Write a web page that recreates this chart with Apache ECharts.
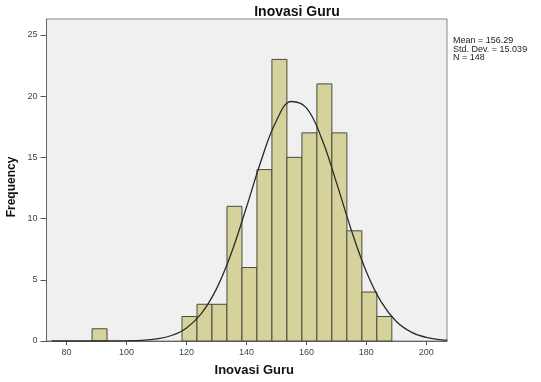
<!DOCTYPE html>
<html>
<head>
<meta charset="utf-8">
<script src="https://cdn.jsdelivr.net/npm/echarts@6/dist/echarts.min.js"></script>
<style>html,body{margin:0;padding:0;background:#fff}#c{width:541px;height:382px}</style>
</head>
<body>
<div id="c"></div>
<script>
// Histogram bins (lower edge, upper edge) and frequencies
const binStart = [88.5, 118.5, 123.5, 128.5, 133.5, 138.5, 143.5, 148.5, 153.5, 158.5, 163.5, 168.5, 173.5, 178.5, 183.5];
const binEnd   = [93.5, 123.5, 128.5, 133.5, 138.5, 143.5, 148.5, 153.5, 158.5, 163.5, 168.5, 173.5, 178.5, 183.5, 188.5];
const freq     = [1, 2, 3, 3, 11, 6, 14, 23, 15, 17, 21, 17, 9, 4, 2];
// Normal curve
const curveX = [75, 80, 85, 90, 95, 100, 105, 110, 115, 120, 125, 130, 135, 140, 145, 150, 155, 160, 165, 170, 175, 180, 185, 190, 195, 200, 205, 207];
const curveY = [0, 0, 0, 0.001, 0.005, 0.018, 0.058, 0.17, 0.45, 1.07, 2.26, 4.26, 7.21, 10.92, 14.81, 17.99, 19.56, 19.04, 16.6, 12.96, 9.05, 5.66, 3.17, 1.59, 0.72, 0.29, 0.1, 0.07];
const xTicks = [80, 100, 120, 140, 160, 180, 200];
const yTicks = [0, 5, 10, 15, 20, 25];
const statsLines = ['Mean = 156.29', 'Std. Dev. = 15.039', 'N = 148'];
const titleText = 'Inovasi Guru';
const xName = 'Inovasi Guru';
const yName = 'Frequency';

const chart = echarts.init(document.getElementById('c'));
const barData = binStart.map((s, i) => [s, binEnd[i], freq[i]]);
const lineData = curveX.map((x, i) => [x, curveY[i]]);
const font = 'Arial, "Liberation Sans", sans-serif';

chart.setOption({
  animation: false,
  backgroundColor: '#fff',
  title: {
    text: titleText, left: 292, top: 0, textAlign: 'center',
    textStyle: { fontFamily: font, fontSize: 14, fontWeight: 'bold', color: '#111' }
  },
  graphic: [
    { type: 'text', left: 453, top: 36,
      style: { text: statsLines.join('\n'), font: '9px ' + font, fill: '#222', lineHeight: 8.7 } },
    { type: 'text', x: 12, y: 187, rotation: Math.PI / 2,
      style: { text: yName, font: 'bold 12px ' + font, fill: '#111', align: 'center', verticalAlign: 'middle' } }
  ],
  grid: { left: 46.5, right: 94, top: 19, bottom: 39, show: true, backgroundColor: '#f0f0f0', borderColor: '#888', borderWidth: 1 },
  xAxis: {
    type: 'value', min: 73.3, max: 206.9,
    name: xName, nameLocation: 'middle', nameGap: 23,
    nameTextStyle: { fontFamily: font, fontSize: 13, fontWeight: 'bold', color: '#111', padding: [0, 0, 0, 15] },
    splitLine: { show: false },
    axisLine: { show: true, lineStyle: { color: '#666', width: 1 } },
    axisTick: { show: true, customValues: xTicks, length: 4, lineStyle: { color: '#555' } },
    axisLabel: { customValues: xTicks, fontFamily: font, fontSize: 9, color: '#444', margin: 7 }
  },
  yAxis: {
    type: 'value', min: 0, max: 26.3,
    splitLine: { show: false },
    axisLine: { show: true, lineStyle: { color: '#666', width: 1 } },
    axisTick: { show: true, customValues: yTicks, length: 6, lineStyle: { color: '#555' } },
    axisLabel: { customValues: yTicks, fontFamily: font, fontSize: 9, color: '#444', margin: 9 }
  },
  series: [
    {
      type: 'custom', data: barData,
      renderItem: function (params, api) {
        const p0 = api.coord([api.value(0), api.value(2)]);
        const p1 = api.coord([api.value(1), 0]);
        return {
          type: 'rect',
          shape: { x: p0[0], y: p0[1], width: p1[0] - p0[0], height: p1[1] - p0[1] },
          style: { fill: '#d6d29c', stroke: '#4a4a40', lineWidth: 1 }
        };
      },
      encode: { x: [0, 1], y: 2 }
    },
    {
      type: 'line', data: lineData, smooth: 0.4, symbol: 'none', clip: true,
      lineStyle: { color: '#2a2a2a', width: 1.3 }, z: 5
    }
  ]
});
</script>
</body>
</html>
